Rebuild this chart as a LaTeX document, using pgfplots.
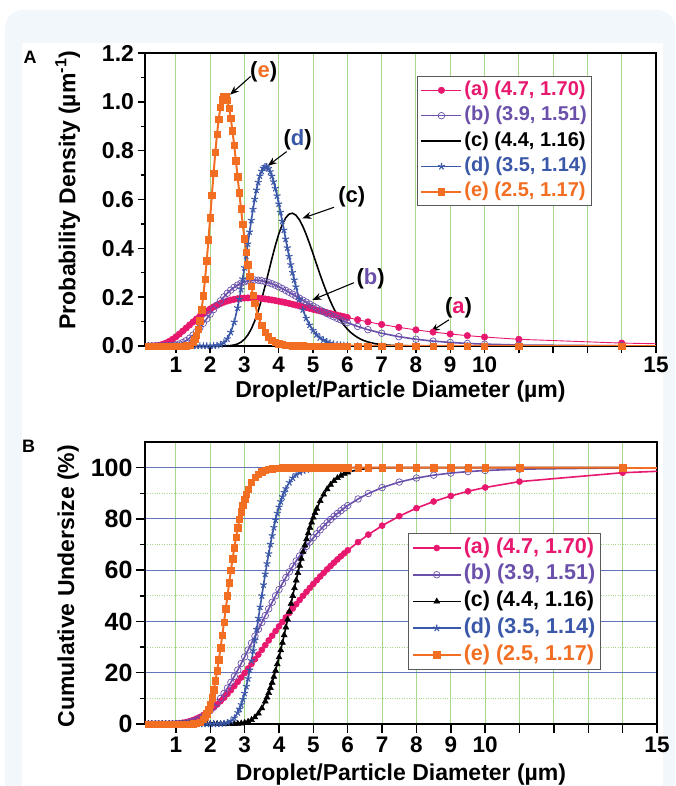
\documentclass[border=0pt]{standalone}
\usepackage{fontspec}
\setmainfont{Liberation Sans}
\usepackage{pgfplots}
\pgfplotsset{compat=1.18}
\usetikzlibrary{arrows.meta}

\definecolor{cA}{HTML}{E8186F}
\definecolor{cB}{HTML}{6A50AA}
\definecolor{cD}{HTML}{3A57A8}
\definecolor{cE}{HTML}{F26E23}
\definecolor{gridgreen}{HTML}{A6D98A}
\definecolor{gridblue}{HTML}{6473BE}
\definecolor{bgblue}{HTML}{F2F7FC}

\pgfplotsset{
  psd axis/.style={
    scale only axis,
    xmin=0.1, xmax=15,
    xtick={1,2,...,15},
    xticklabels={1,2,3,4,5,6,7,8,9,10,,,,,15},
    xtick pos=bottom, ytick pos=left,
    tick align=outside,
    tick style={black, line width=1.4pt},
    axis line style={line width=1.8pt},
    xmajorgrids,
    major x grid style={gridgreen, line width=0.9pt},
    /pgf/number format/assume math mode=true,
    xticklabel style={font=\bfseries\fontsize{22.5}{22.5}\selectfont},
    label style={font=\bfseries\fontsize{23}{23}\selectfont},
    legend cell align=left,
  },
}
\tikzset{
  annot/.style={font=\bfseries\fontsize{22}{22}\selectfont, inner sep=0pt},
  arr/.style={-{Stealth[length=9pt,width=7pt]}, line width=1.1pt},
}

\begin{document}
\begin{tikzpicture}
\useasboundingbox (0pt,0pt) rectangle (675pt,786pt);
\fill[bgblue, rounded corners=18pt] (5pt,-30pt) rectangle (675pt,776pt);
\fill[white] (22pt,0pt) rectangle (663pt,743pt);
\node[font=\bfseries\fontsize{18}{18}\selectfont] at (30pt,729pt) {A};
\node[font=\bfseries\fontsize{18}{18}\selectfont] at (28.5pt,339.5pt) {B};

% ---------------- Panel A: probability density ----------------
\begin{axis}[psd axis,
    at={(145pt,440pt)}, anchor=south west,
    width=511pt, height=293pt,
    major tick length=7.5pt, minor tick length=4pt,
    ymin=0, ymax=1.2,
    ytick={0,0.2,0.4,0.6,0.8,1.0,1.2},
    minor y tick num=1,
    yticklabel style={font=\bfseries\fontsize{23}{23}\selectfont,
        /pgf/number format/.cd, fixed, fixed zerofill, precision=1},
    xlabel={Droplet/Particle Diameter (µm)},
    ylabel={Probability Density (µm\textsuperscript{-1})},
    xlabel style={at={(axis description cs:0.5,-0.157)}, anchor=center},
    ylabel style={at={(axis description cs:-0.151,0.532)}, anchor=center},
    legend image code/.code={\draw[mark repeat=2,mark phase=2,#1] plot coordinates {(0pt,0pt) (20pt,0pt) (40pt,0pt)};},
    legend style={at={(0.532,0.9215)}, anchor=north west, draw=black!65, line width=1.2pt,
        fill=white, font=\bfseries\fontsize{20}{20}\selectfont, row sep=0pt,
        inner xsep=3pt, inner ysep=1pt,
        nodes={inner ysep=3.7pt, inner xsep=2pt, text height=14pt, text depth=4pt}},
  ]
  % (a) 4.7, 1.70
  \addplot[cA, line width=0.9pt, mark=*, mark size=3.2pt, mark options={line width=0.6pt}]
  coordinates {(0.2,0) (0.3,0.0002) (0.4,0.0009) (0.5,0.0028) (0.6,0.0062) (0.7,0.0114) (0.8,0.0185) (0.9,0.0273)
  (1.0,0.0375) (1.1,0.0488) (1.2,0.0609) (1.3,0.0734) (1.4,0.0860) (1.5,0.0985) (1.6,0.1105) (1.7,0.1220) (1.8,0.1328) (1.9,0.1428)
  (2.0,0.1519) (2.1,0.1602) (2.2,0.1675) (2.3,0.1739) (2.4,0.1795) (2.5,0.1842) (2.6,0.1881) (2.7,0.1912) (2.8,0.1936) (2.9,0.1953)
  (3.0,0.1964) (3.1,0.1969) (3.2,0.1969) (3.3,0.1965) (3.4,0.1956) (3.5,0.1943) (3.6,0.1926) (3.7,0.1907) (3.8,0.1885) (3.9,0.1860)
  (4.0,0.1833) (4.1,0.1805) (4.2,0.1775) (4.3,0.1744) (4.4,0.1711) (4.5,0.1678) (4.6,0.1644) (4.7,0.1610) (4.8,0.1575) (4.9,0.1541)
  (5.0,0.1505) (5.1,0.1471) (5.2,0.1435) (5.3,0.1401) (5.4,0.1366) (5.5,0.1332) (5.6,0.1298) (5.7,0.1265) (5.8,0.1232) (5.9,0.1200)
  (6.0,0.1167) (6.3,0.1076) (6.6,0.0989) (7.0,0.0882) (7.5,0.0763) (8.0,0.0660) (8.5,0.0569) (9.0,0.0491) (9.5,0.0424)
  (10,0.0367) (11,0.0275) (14,0.0119)};
  \addlegendentry{\textcolor{cA}{(a) (4.7, 1.70)}}
  % (b) 3.9, 1.51
  \addplot[cB, line width=1.6pt, mark=o, mark size=3.3pt, mark options={line width=0.7pt}]
  coordinates {(0.2,0) (0.3,0) (0.4,0) (0.5,0) (0.6,0.0001) (0.7,0.0003) (0.8,0.0008) (0.9,0.0020)
  (1.0,0.0043) (1.1,0.0081) (1.2,0.0138) (1.3,0.0217) (1.4,0.0320) (1.5,0.0444) (1.6,0.0590) (1.7,0.0753) (1.8,0.0929) (1.9,0.1115)
  (2.0,0.1304) (2.1,0.1492) (2.2,0.1676) (2.3,0.1850) (2.4,0.2012) (2.5,0.2159) (2.6,0.2289) (2.7,0.2402) (2.8,0.2496) (2.9,0.2572)
  (3.0,0.2630) (3.1,0.2670) (3.2,0.2693) (3.3,0.2700) (3.4,0.2693) (3.5,0.2673) (3.6,0.2641) (3.7,0.2599) (3.8,0.2548) (3.9,0.2490)
  (4.0,0.2425) (4.1,0.2355) (4.2,0.2280) (4.3,0.2203) (4.4,0.2123) (4.5,0.2042) (4.6,0.1960) (4.7,0.1878) (4.8,0.1796) (4.9,0.1715)
  (5.0,0.1636) (5.1,0.1558) (5.2,0.1481) (5.3,0.1407) (5.4,0.1335) (5.5,0.1266) (5.6,0.1199) (5.7,0.1134) (5.8,0.1072) (5.9,0.1013)
  (6.0,0.0956) (6.3,0.0802) (6.6,0.0669) (7.0,0.0523) (7.5,0.0382) (8.0,0.0277) (8.5,0.0201) (9.0,0.0145) (9.5,0.0105)
  (10,0.0076) (11,0.0040) (14,0.0006)};
  \addlegendentry{\textcolor{cB}{(b) (3.9, 1.51)}}
  % (c) 4.4, 1.16
  \addplot[black, line width=1.6pt, no markers]
  coordinates {(0.1,0) (2.3,0) (2.4,0.0003) (2.5,0.0008) (2.6,0.0019) (2.7,0.0042) (2.8,0.0084) (2.9,0.0158)
  (3.0,0.0276) (3.1,0.0453) (3.2,0.0701) (3.3,0.1026) (3.4,0.1432) (3.5,0.1911) (3.6,0.2444) (3.7,0.3009) (3.8,0.3576) (3.9,0.4111)
  (4.0,0.4584) (4.1,0.4968) (4.2,0.5245) (4.3,0.5402) (4.4,0.5438) (4.5,0.5357) (4.6,0.5174) (4.7,0.4904) (4.8,0.4568) (4.9,0.4186)
  (5.0,0.3777) (5.1,0.3359) (5.2,0.2945) (5.3,0.2552) (5.4,0.2184) (5.5,0.1849) (5.6,0.1547) (5.7,0.1282) (5.8,0.1053) (5.9,0.0857)
  (6.0,0.0692) (6.1,0.0554) (6.2,0.0441) (6.3,0.0348) (6.4,0.0272) (6.5,0.0212) (6.6,0.0164) (6.8,0.0097) (7.0,0.0056)
  (7.2,0.0032) (7.5,0.0013) (8.0,0.0003) (8.5,0) (15,0)};
  \addlegendentry{\textcolor{black}{(c) (4.4, 1.16)}}
  % (d) 3.5, 1.14
  \addplot[cD, line width=1.6pt, mark=star, mark size=3.6pt, mark options={line width=1.1pt}]
  coordinates {(0.2,0) (0.3,0) (0.4,0) (0.5,0) (0.6,0) (0.7,0) (0.8,0) (0.9,0) (1.0,0) (1.1,0) (1.2,0) (1.3,0) (1.4,0)
  (1.5,0) (1.6,0) (1.7,0) (1.8,0) (1.9,0) (2.0,0.0002) (2.1,0.0007) (2.2,0.0022) (2.3,0.0059) (2.4,0.0140) (2.5,0.0295)
  (2.6,0.0562) (2.7,0.0978) (2.8,0.1563) (2.85,0.1921) (2.9,0.2318) (2.95,0.2750) (3.0,0.3210) (3.05,0.3690) (3.1,0.4180)
  (3.15,0.4669) (3.2,0.5145) (3.25,0.5596) (3.3,0.6011) (3.35,0.6384) (3.4,0.6702) (3.45,0.6962) (3.5,0.7157) (3.55,0.7284)
  (3.6,0.7345) (3.65,0.7338) (3.7,0.7268) (3.75,0.7138) (3.8,0.6955) (3.85,0.6724) (3.9,0.6453) (3.95,0.6149) (4.0,0.5819)
  (4.05,0.5471) (4.1,0.5110) (4.15,0.4745) (4.2,0.4378) (4.25,0.4020) (4.3,0.3669) (4.35,0.3330) (4.4,0.3009) (4.45,0.2706)
  (4.5,0.2420) (4.6,0.1912) (4.7,0.1485) (4.8,0.1136) (4.9,0.0857) (5.0,0.0637) (5.1,0.0467) (5.2,0.0339) (5.3,0.0243)
  (5.4,0.0173) (5.5,0.0121) (5.6,0.0084) (5.7,0.0058) (5.8,0.0040) (5.9,0.0027) (6.0,0.0018) (6.3,0.0005) (6.6,0.0001)
  (7.0,0) (7.5,0) (8.0,0) (8.5,0) (9.0,0) (9.5,0) (10,0) (11,0) (14,0)};
  \addlegendentry{\textcolor{cD}{(d) (3.5, 1.14)}}
  % (e) 2.5, 1.17
  \addplot[cE, line width=2pt, mark=square*, mark size=3.2pt, mark options={line width=0.5pt}]
  coordinates {(0.2,0) (0.3,0) (0.4,0) (0.5,0) (0.6,0) (0.7,0) (0.8,0) (0.9,0) (1.0,0) (1.1,0) (1.2,0.0001) (1.3,0.0009)
  (1.4,0.0042) (1.5,0.0153) (1.55,0.0268) (1.6,0.0442) (1.65,0.0693) (1.7,0.1036) (1.75,0.1488) (1.8,0.2051) (1.85,0.2724)
  (1.9,0.3499) (1.95,0.4351) (2.0,0.5256) (2.05,0.6180) (2.1,0.7082) (2.15,0.7927) (2.2,0.8676) (2.25,0.9297) (2.3,0.9773)
  (2.35,1.0089) (2.4,1.0237) (2.45,1.0221) (2.5,1.0053) (2.55,0.9748) (2.6,0.9327) (2.65,0.8810) (2.7,0.8225) (2.75,0.7594)
  (2.8,0.6937) (2.85,0.6273) (2.9,0.5620) (2.95,0.4990) (3.0,0.4392) (3.05,0.3837) (3.1,0.3325) (3.15,0.2861) (3.2,0.2444)
  (3.25,0.2076) (3.3,0.1753) (3.4,0.1227) (3.5,0.0841) (3.6,0.0566) (3.7,0.0375) (3.8,0.0244) (3.9,0.0157) (4.0,0.0099)
  (4.1,0.0062) (4.2,0.0039) (4.3,0.0023) (4.4,0.0014) (4.5,0.0009) (4.6,0.0005) (4.7,0.0003) (4.8,0) (4.9,0) (5.0,0)
  (5.1,0) (5.2,0) (5.3,0) (5.4,0) (5.5,0) (5.6,0) (5.7,0) (5.8,0) (5.9,0) (6.0,0) (6.3,0) (6.6,0) (7.0,0) (7.5,0) (8.0,0)
  (8.5,0) (9.0,0) (9.5,0) (10,0) (11,0) (14,0)};
  \addlegendentry{\textcolor{cE}{(e) (2.5, 1.17)}}
  % lines running on to the right edge
  \addplot[cA, line width=0.9pt, forget plot] coordinates {(14,0.0119) (15,0.0092)};
  \addplot[cE, line width=2pt, forget plot] coordinates {(14,0) (15,0)};
  % labels with arrows
  \draw[arr] (axis cs:3.18,1.104) -- (axis cs:2.58,1.029);
  \node[annot] at (axis cs:3.56,1.123) {(\textcolor{cE}{e})};
  \draw[arr] (axis cs:4.23,0.796) -- (axis cs:3.68,0.738);
  \node[annot] at (axis cs:4.55,0.844) {(\textcolor{cD}{d})};
  \draw[arr] (axis cs:5.61,0.568) -- (axis cs:4.69,0.523);
  \node[annot] at (axis cs:6.13,0.611) {(c)};
  \draw[arr] (axis cs:6.19,0.259) -- (axis cs:4.98,0.189);
  \node[annot] at (axis cs:6.68,0.275) {(\textcolor{cB}{b})};
  \draw[arr] (axis cs:8.96,0.107) -- (axis cs:8.43,0.059);
  \node[annot] at (axis cs:9.24,0.156) {(\textcolor{cA}{a})};
\end{axis}

% ---------------- Panel B: cumulative undersize ----------------
\begin{axis}[psd axis,
    at={(145pt,62pt)}, anchor=south west,
    width=512pt, height=282pt,
    major tick length=9pt, minor tick length=5pt,
    ymin=0, ymax=110,
    ytick={0,20,40,60,80,100},
    minor y tick num=1,
    yticklabel style={font=\bfseries\fontsize{25}{25}\selectfont},
    ymajorgrids, yminorgrids,
    major y grid style={gridblue, line width=0.9pt},
    minor y grid style={gridgreen, dotted, line width=0.9pt},
    xlabel={Droplet/Particle Diameter (µm)},
    ylabel={Cumulative Undersize (\%)},
    xlabel style={at={(axis description cs:0.5,-0.181)}, anchor=center},
    ylabel style={at={(axis description cs:-0.150,0.489)}, anchor=center},
    legend image code/.code={\draw[mark repeat=2,mark phase=2,#1] plot coordinates {(0pt,0pt) (24pt,0pt) (48pt,0pt)};},
    legend style={at={(0.514,0.677)}, anchor=north west, draw=black!65, line width=1.2pt,
        fill=white, font=\bfseries\fontsize{21.5}{21.5}\selectfont, row sep=0pt,
        inner xsep=3pt, inner ysep=1pt,
        nodes={inner ysep=3.6pt, inner xsep=2pt, text height=15pt, text depth=4.5pt}},
  ]
  % (a)
  \addplot[cA, line width=1.6pt, mark=*, mark size=3pt, mark options={line width=0.6pt}]
  coordinates {(0.2,0) (0.3,0) (0.4,0) (0.5,0) (0.6,0.01) (0.7,0.02) (0.8,0.04) (0.9,0.09)
  (1.0,0.18) (1.1,0.31) (1.2,0.50) (1.3,0.77) (1.4,1.12) (1.5,1.57) (1.6,2.11) (1.7,2.76) (1.8,3.52) (1.9,4.39)
  (2.0,5.37) (2.1,6.45) (2.2,7.63) (2.3,8.90) (2.4,10.26) (2.5,11.71) (2.6,13.22) (2.7,14.81) (2.8,16.45) (2.9,18.14)
  (3.0,19.87) (3.1,21.64) (3.2,23.44) (3.3,25.25) (3.4,27.08) (3.5,28.92) (3.6,30.76) (3.7,32.60) (3.8,34.43) (3.9,36.25)
  (4.0,38.06) (4.1,39.84) (4.2,41.60) (4.3,43.34) (4.4,45.05) (4.5,46.73) (4.6,48.38) (4.7,50.00) (4.8,51.58) (4.9,53.12)
  (5.0,54.64) (5.1,56.11) (5.2,57.55) (5.3,58.95) (5.4,60.32) (5.5,61.64) (5.6,62.94) (5.7,64.19) (5.8,65.41) (5.9,66.59)
  (6.0,67.73) (6.3,70.95) (6.6,73.88) (7.0,77.36) (7.5,81.08) (8.0,84.19) (8.5,86.79) (9.0,88.96) (9.5,90.76)
  (10,92.26) (11,94.55) (14,98.02)};
  \addlegendentry{\textcolor{cA}{(a) (4.7, 1.70)}}
  % (b)
  \addplot[cB, line width=1.6pt, mark=o, mark size=3.3pt, mark options={line width=0.7pt}]
  coordinates {(0.2,0) (0.3,0) (0.4,0) (0.5,0) (0.6,0) (0.7,0) (0.8,0.01) (0.9,0.02)
  (1.0,0.05) (1.1,0.11) (1.2,0.21) (1.3,0.38) (1.4,0.65) (1.5,1.02) (1.6,1.53) (1.7,2.20) (1.8,3.03) (1.9,4.05)
  (2.0,5.25) (2.1,6.65) (2.2,8.24) (2.3,10.00) (2.4,11.94) (2.5,14.03) (2.6,16.26) (2.7,18.61) (2.8,21.06) (2.9,23.61)
  (3.0,26.21) (3.1,28.87) (3.2,31.56) (3.3,34.26) (3.4,36.96) (3.5,39.64) (3.6,42.29) (3.7,44.91) (3.8,47.48) (3.9,50.00)
  (4.0,52.45) (4.1,54.83) (4.2,57.13) (4.3,59.36) (4.4,61.51) (4.5,63.58) (4.6,65.56) (4.7,67.47) (4.8,69.28) (4.9,71.01)
  (5.0,72.67) (5.1,74.24) (5.2,75.75) (5.3,77.16) (5.4,78.51) (5.5,79.79) (5.6,81.00) (5.7,82.14) (5.8,83.22) (5.9,84.25)
  (6.0,85.21) (6.3,87.77) (6.6,89.91) (7.0,92.21) (7.5,94.37) (8.0,95.94) (8.5,97.07) (9.0,97.88) (9.5,98.46)
  (10,98.88) (11,99.41) (14,99.90)};
  \addlegendentry{\textcolor{cB}{(b) (3.9, 1.51)}}
  % (c)
  \addplot[black, line width=1.6pt, mark=triangle*, mark size=3.4pt, mark options={line width=0.5pt}]
  coordinates {(0.2,0) (0.3,0) (0.4,0) (0.5,0) (0.6,0) (0.7,0) (0.8,0) (0.9,0) (1.0,0) (1.1,0) (1.2,0) (1.3,0) (1.4,0)
  (1.5,0) (1.6,0) (1.7,0) (1.8,0) (1.9,0) (2.0,0) (2.1,0) (2.2,0) (2.3,0) (2.4,0) (2.5,0) (2.6,0) (2.7,0)
  (2.8,0.12) (2.9,0.25) (3.0,0.49) (3.1,0.91) (3.2,1.60) (3.3,2.63) (3.4,4.12) (3.5,6.16) (3.6,8.81) (3.65,10.39)
  (3.7,12.14) (3.75,14.08) (3.8,16.16) (3.85,18.42) (3.9,20.82) (3.95,23.36) (4.0,26.04) (4.05,28.82) (4.1,31.71)
  (4.15,34.67) (4.2,37.70) (4.25,40.76) (4.3,43.84) (4.35,46.94) (4.4,50.00) (4.45,53.03) (4.5,56.03) (4.55,58.93)
  (4.6,61.79) (4.65,64.53) (4.7,67.17) (4.75,69.69) (4.8,72.12) (4.85,74.42) (4.9,76.58) (4.95,78.63) (5.0,80.54)
  (5.05,82.35) (5.1,84.00) (5.2,86.99) (5.3,89.51) (5.4,91.62) (5.5,93.36) (5.6,94.80) (5.7,95.95) (5.8,96.87)
  (5.9,97.60) (6.0,98.17) (6.3,99.22) (6.6,99.69) (7.0,99.91) (7.5,100) (8.0,100) (8.5,100) (9.0,100) (9.5,100)
  (10,100) (11,100) (14,100)};
  \addlegendentry{\textcolor{black}{(c) (4.4, 1.16)}}
  % (d)
  \addplot[cD, line width=1.6pt, mark=star, mark size=3.6pt, mark options={line width=1.1pt}]
  coordinates {(0.2,0) (0.3,0) (0.4,0) (0.5,0) (0.6,0) (0.7,0) (0.8,0) (0.9,0) (1.0,0) (1.1,0) (1.2,0) (1.3,0) (1.4,0)
  (1.5,0) (1.6,0) (1.7,0) (1.8,0) (1.9,0) (2.0,0) (2.1,0) (2.2,0) (2.3,0.07) (2.4,0.20) (2.5,0.51) (2.6,1.16) (2.7,2.38)
  (2.8,4.42) (2.85,5.84) (2.9,7.55) (2.95,9.59) (3.0,11.96) (3.05,14.66) (3.1,17.70) (3.15,21.05) (3.2,24.70)
  (3.25,28.58) (3.3,32.65) (3.35,36.90) (3.4,41.24) (3.45,45.62) (3.5,50.00) (3.55,54.28) (3.6,58.49) (3.65,62.54)
  (3.7,66.41) (3.75,70.08) (3.8,73.48) (3.85,76.66) (3.9,79.56) (3.95,82.20) (4.0,84.59) (4.05,86.73) (4.1,88.64)
  (4.15,90.32) (4.2,91.80) (4.3,94.19) (4.4,95.96) (4.5,97.25) (4.6,98.15) (4.7,98.78) (4.8,99.20) (4.9,99.49)
  (5.0,99.68) (5.1,99.80) (5.2,99.87) (5.3,99.92) (5.4,99.95) (5.5,99.97) (5.6,100) (5.7,100) (5.8,100) (5.9,100)
  (6.0,100) (6.3,100) (6.6,100) (7.0,100) (7.5,100) (8.0,100) (8.5,100) (9.0,100) (9.5,100) (10,100) (11,100) (14,100)};
  \addlegendentry{\textcolor{cD}{(d) (3.5, 1.14)}}
  % (e)
  \addplot[cE, line width=2pt, mark=square*, mark size=3.2pt, mark options={line width=0.5pt}]
  coordinates {(0.2,0) (0.3,0) (0.4,0) (0.5,0) (0.6,0) (0.7,0) (0.8,0) (0.9,0) (1.0,0) (1.1,0) (1.2,0) (1.3,0) (1.4,0)
  (1.5,0.06) (1.6,0.22) (1.7,0.70) (1.8,1.82) (1.85,2.76) (1.9,4.02) (1.95,5.67) (2.0,7.76) (2.05,10.31) (2.1,13.33)
  (2.15,16.84) (2.2,20.78) (2.25,25.10) (2.3,29.76) (2.35,34.67) (2.4,39.75) (2.45,44.88) (2.5,50.00) (2.55,55.02)
  (2.6,59.86) (2.65,64.48) (2.7,68.81) (2.75,72.81) (2.8,76.48) (2.85,79.80) (2.9,82.77) (2.95,85.41) (3.0,87.72)
  (3.05,89.73) (3.1,91.47) (3.2,94.21) (3.3,96.15) (3.4,97.49) (3.5,98.40) (3.6,98.99) (3.7,99.37) (3.8,99.62)
  (3.9,99.77) (4.0,99.86) (4.1,99.92) (4.2,99.95) (4.3,100) (4.4,100) (4.5,100) (4.6,100) (4.7,100) (4.8,100)
  (4.9,100) (5.0,100) (5.1,100) (5.2,100) (5.3,100) (5.4,100) (5.5,100) (5.6,100) (5.7,100) (5.8,100) (5.9,100)
  (6.0,100) (6.3,100) (6.6,100) (7.0,100) (7.5,100) (8.0,100) (8.5,100) (9.0,100) (9.5,100) (10,100) (11,100) (14,100)};
  \addlegendentry{\textcolor{cE}{(e) (2.5, 1.17)}}
  \addplot[cA, line width=1.6pt, forget plot] coordinates {(14,98.02) (15,98.56)};
  \addplot[cE, line width=2pt, forget plot] coordinates {(14,100) (15,100)};
\end{axis}
\end{tikzpicture}
\end{document}
